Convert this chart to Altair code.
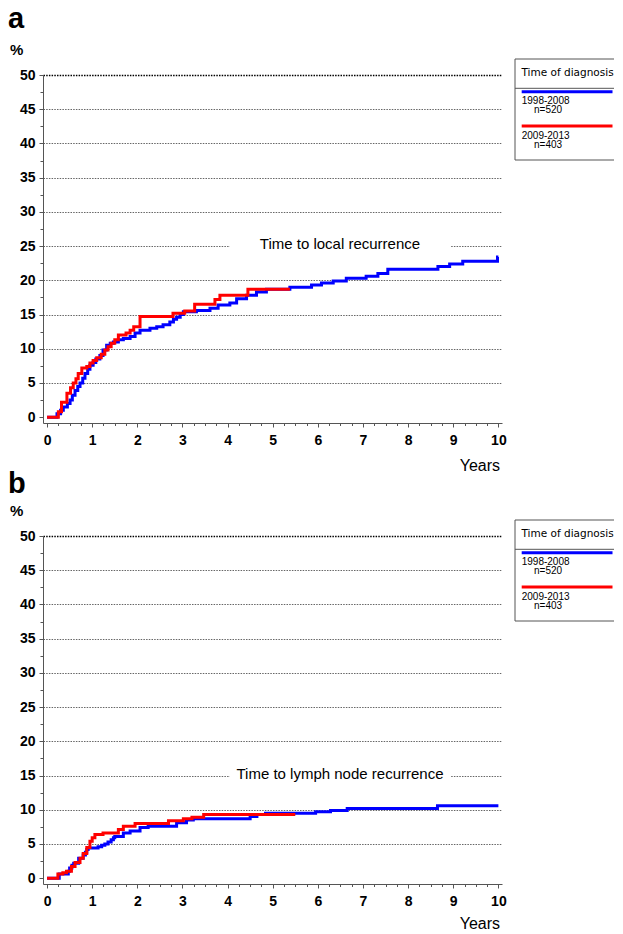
import altair as alt
import pandas as pd

# ---------------- data ----------------
series_names = ["1998-2008", "2009-2013"]
series_n = ["n=520", "n=403"]
series_colors = ["#0000ff", "#ff0000"]
legend_title = "Time of diagnosis"
panel_letters = ["a", "b"]
panel_notes = ["Time to local recurrence", "Time to lymph node recurrence"]
note_levels = [25, 15]
y_unit = "%"
x_title = "Years"

# (years, cumulative %) step points
a_blue = [(0, 0), (0.22, 0.5), (0.30, 1.0), (0.36, 1.5), (0.45, 2.0), (0.51, 2.5), (0.56, 3.2),
          (0.62, 3.9), (0.68, 4.5), (0.73, 5.0), (0.79, 5.7), (0.84, 6.4), (0.90, 7.0), (0.95, 7.6),
          (1.02, 8.0), (1.08, 8.5), (1.17, 9.0), (1.24, 9.8), (1.32, 10.5), (1.40, 10.8), (1.47, 11.0),
          (1.58, 11.3), (1.69, 11.5), (1.84, 11.8), (1.95, 12.3), (2.06, 12.7), (2.28, 13.0), (2.43, 13.2),
          (2.57, 13.5), (2.72, 13.9), (2.80, 14.3), (2.87, 14.6), (2.95, 15.0), (3.02, 15.4), (3.31, 15.6),
          (3.61, 15.9), (3.79, 16.4), (4.05, 16.7), (4.20, 17.3), (4.42, 17.8), (4.64, 18.3), (4.86, 18.7),
          (5.38, 19.0), (5.86, 19.3), (6.08, 19.6), (6.34, 19.9), (6.63, 20.3), (7.07, 20.6), (7.33, 21.0),
          (7.55, 21.6), (8.66, 22.0), (8.92, 22.4), (9.21, 22.8), (9.98, 23.4), (10.0, 23.4)]
a_red = [(0, 0), (0.25, 0.8), (0.32, 2.2), (0.44, 3.5), (0.52, 4.3), (0.58, 5.0), (0.64, 5.6),
         (0.69, 6.4), (0.77, 7.2), (0.88, 7.4), (0.95, 7.9), (1.02, 8.3), (1.10, 8.7), (1.20, 9.2),
         (1.28, 9.8), (1.35, 10.3), (1.42, 10.8), (1.50, 11.3), (1.58, 12.0), (1.75, 12.3), (1.84, 12.7),
         (1.92, 13.2), (2.06, 14.7), (2.79, 15.2), (3.05, 15.5), (3.27, 16.5), (3.72, 17.2), (3.83, 17.8),
         (4.45, 18.7), (5.38, 18.7)]
b_blue = [(0, 0), (0.27, 0.6), (0.47, 1.0), (0.50, 1.5), (0.55, 1.9), (0.59, 2.2), (0.70, 2.9),
          (0.80, 3.4), (0.85, 3.8), (0.88, 4.2), (0.91, 4.4), (1.13, 4.6), (1.21, 4.8), (1.28, 5.0),
          (1.35, 5.3), (1.42, 5.6), (1.47, 5.9), (1.50, 6.1), (1.69, 6.6), (1.84, 6.9), (2.06, 7.4),
          (2.24, 7.6), (2.87, 8.1), (3.09, 8.5), (3.24, 8.7), (4.50, 9.0), (4.65, 9.3), (4.84, 9.5),
          (5.95, 9.7), (6.28, 9.9), (6.65, 10.2), (8.65, 10.6), (10.0, 10.6)]
b_red = [(0, 0), (0.24, 0.6), (0.35, 0.8), (0.43, 1.0), (0.54, 1.7), (0.62, 2.3), (0.73, 2.9),
         (0.80, 3.6), (0.88, 4.5), (0.95, 5.4), (1.00, 5.9), (1.06, 6.4), (1.24, 6.6), (1.58, 7.1),
         (1.69, 7.6), (1.95, 8.0), (2.69, 8.4), (3.02, 8.7), (3.21, 8.9), (3.47, 9.3), (5.50, 9.3)]

y_axis_values = [i * 2.5 for i in range(21)]    # labels every 5, minor ticks every 2.5
x_axis_values = [i * 0.25 for i in range(41)]   # labels every year, minor ticks every quarter

# ---------------- layout ----------------
W, H = 459, 348
FONT = "Liberation Sans"
AXIS_GREY = "#555555"


def frame(series):
    rows = []
    for name, pts in zip(series_names, series):
        for t, v in pts:
            rows.append({"t": t, "pct": v, "series": name})
    return pd.DataFrame(rows)


def label(text, x, y, size, weight="normal", font=FONT, align="left"):
    return alt.Chart(pd.DataFrame({"txt": [text]})).mark_text(
        align=align, baseline="alphabetic", fontSize=size, fontWeight=weight,
        font=font, color="black"
    ).encode(x=alt.value(x), y=alt.value(y), text="txt:N")


def hrule(x1, x2, y, color, width):
    return alt.Chart(pd.DataFrame({"k": [0]})).mark_rule(color=color, strokeWidth=width).encode(
        x=alt.value(x1), x2=alt.value(x2), y=alt.value(y))


def vrule(x, y1, y2, color, width):
    return alt.Chart(pd.DataFrame({"k": [0]})).mark_rule(color=color, strokeWidth=width).encode(
        x=alt.value(x), y=alt.value(y1), y2=alt.value(y2))


x_enc = alt.X("t:Q", scale=alt.Scale(domain=[-0.09, 10.08], nice=False, zero=False),
              axis=alt.Axis(values=x_axis_values, tickCount=len(x_axis_values), title=None, grid=False,
                            labelExpr="datum.value % 1 === 0 ? format(datum.value, 'd') : ''",
                            labelFont=FONT, labelFontSize=14, labelFontWeight="bold",
                            labelColor="black", labelPadding=6, labelFlush=False,
                            labelOverlap=False, labelAngle=0,
                            tickSize={"condition": {"test": "datum.value % 1 === 0", "value": 4}, "value": 2.5},
                            tickColor=AXIS_GREY, domainColor=AXIS_GREY))
y_enc = alt.Y("pct:Q", scale=alt.Scale(domain=[-0.85, 50], nice=False, zero=False),
              axis=alt.Axis(values=y_axis_values, tickCount=len(y_axis_values), title=None, grid=True,
                            labelExpr="datum.value % 5 === 0 ? format(datum.value, 'd') : ''",
                            labelFont=FONT, labelFontSize=14, labelFontWeight="bold",
                            labelColor="black", labelPadding=4, labelOverlap=False,
                            tickSize={"condition": {"test": "datum.value % 5 === 0", "value": 4}, "value": 3},
                            tickColor=AXIS_GREY, domainColor=AXIS_GREY,
                            gridColor={"condition": {"test": "datum.value === 50", "value": "#000000"}, "value": "#666666"},
                            gridWidth={"condition": {"test": "datum.value === 50", "value": 1.6}, "value": 1},
                            gridDash=[1.5, 1.2],
                            gridOpacity={"condition": {"test": "datum.value % 5 === 0 && datum.value > 0", "value": 1}, "value": 0}))


def panel(idx, series, tops, bottoms, years_y):
    df = frame(series)
    note = panel_notes[idx]
    lvl = note_levels[idx]
    gap = alt.Chart(pd.DataFrame({"k": [0]})).mark_rect(color="white").encode(
        x=alt.datum(4.05), x2=alt.datum(8.93), y=alt.datum(lvl - 1.0), y2=alt.datum(lvl + 1.0))
    note_txt = alt.Chart(pd.DataFrame({"txt": [note]})).mark_text(
        align="center", baseline="alphabetic", fontSize=15, font=FONT, color="black", dy=3
    ).encode(x=alt.datum(6.49), y=alt.datum(lvl), text="txt:N")
    lines = []
    for name, col in zip(series_names, series_colors):
        lines.append(alt.Chart(df).transform_filter(alt.datum.series == name).mark_line(
            interpolate="step-after", strokeWidth=3, color=col).encode(x=x_enc, y=y_enc))
    deco = []
    for (letter, ly, py) in tops:
        deco.append(label(letter, -35, ly, 29, "bold"))
        deco.append(label(y_unit, -33, py, 15, "bold"))
    deco.append(label(x_title, W - 2, years_y, 16, align="right"))
    # legend box
    LX, RX = 472, 571
    deco += [hrule(LX, RX, -16, AXIS_GREY, 1), vrule(LX, -16, 85, AXIS_GREY, 1),
             hrule(LX, RX, 85, AXIS_GREY, 1), hrule(LX, RX, 13.3, AXIS_GREY, 1)]
    deco.append(label(legend_title, 478.5, 0.5, 10.5, font="DejaVu Sans"))
    for k, (name, n, col) in enumerate(zip(series_names, series_n, series_colors)):
        base = 16.7 + 34.3 * k
        deco.append(hrule(478.7, RX - 1.5, base, col, 3))
        deco.append(label(name, 478.7, base + 12.6 + 0.5 * k, 10))
        deco.append(label(n, 491, base + 21.0 + 0.5 * k, 10))
    for (letter, ly, py) in bottoms:
        deco.append(label(letter, -35, ly, 29, "bold"))
        deco.append(label(y_unit, -33, py, 15, "bold"))
    return alt.layer(gap, note_txt, *lines, *deco).properties(width=W, height=H)


top_a = panel(0, [a_blue, a_red], tops=[(panel_letters[0], -47.3, -20)],
              bottoms=[(panel_letters[1], 417.7, 441)], years_y=395.5)
bot_b = panel(1, [b_blue, b_red], tops=[], bottoms=[], years_y=393)

chart = alt.vconcat(top_a, bot_b, spacing=0).properties(
    padding={"left": 0, "top": -4, "right": 0, "bottom": 0}
).configure_view(stroke=None)

chart.save("out.html", embed_options={"renderer": "svg", "actions": False})
